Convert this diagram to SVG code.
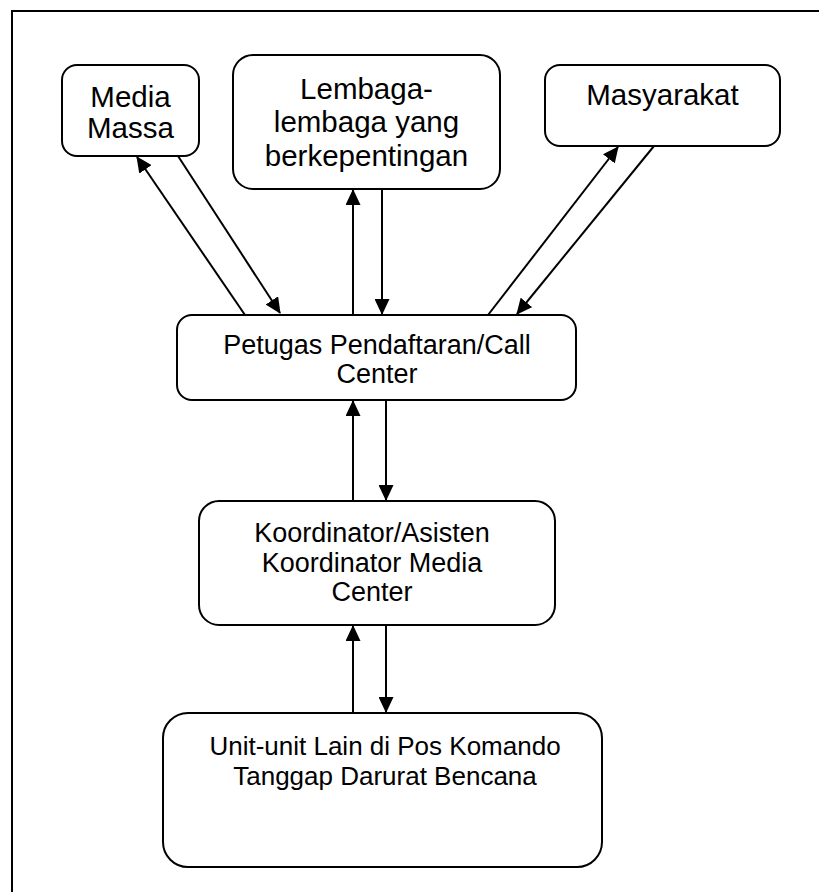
<svg xmlns="http://www.w3.org/2000/svg" width="819" height="892" viewBox="0 0 819 892">
  <style>
    .box { fill: #ffffff; stroke: #000000; stroke-width: 2; }
    .frame { fill: none; stroke: #000000; stroke-width: 2; }
    .lbl { font-family: "Liberation Sans", Arial, sans-serif; fill: #000000; text-anchor: middle; }
    .big { font-size: 29.5px; }
    .mid { font-size: 27px; }
    .sm { font-size: 26px; }
    .link { stroke: #000000; stroke-width: 2; fill: none; marker-end: url(#head); }
  </style>
  <defs>
    <marker id="head" markerUnits="userSpaceOnUse" markerWidth="16" markerHeight="15" refX="15" refY="7.5" orient="auto">
      <path d="M0,0 L16,7.5 L0,15 Z" fill="#000000"/>
    </marker>
  </defs>
  <rect width="819" height="892" fill="#ffffff"/>
  <!-- page frame, continues past the right and bottom edges -->
  <rect class="frame" x="12" y="11" width="820" height="900"/>

  <g id="media-massa">
    <rect class="box" x="62" y="65" width="137" height="91" rx="15"/>
    <text class="lbl big" x="130.5" y="107">Media</text>
    <text class="lbl big" x="130.5" y="138">Massa</text>
  </g>

  <g id="lembaga">
    <rect class="box" x="233" y="55" width="267" height="134" rx="20"/>
    <text class="lbl big" x="366.5" y="99">Lembaga-</text>
    <text class="lbl big" x="366.5" y="132">lembaga yang</text>
    <text class="lbl big" x="366.5" y="166">berkepentingan</text>
  </g>

  <g id="masyarakat">
    <rect class="box" x="545" y="65" width="235" height="81" rx="15"/>
    <text class="lbl big" x="662.5" y="105">Masyarakat</text>
  </g>

  <g id="petugas">
    <rect class="box" x="177" y="315" width="399" height="85" rx="15"/>
    <text class="lbl mid" x="377" y="354">Petugas Pendaftaran/Call</text>
    <text class="lbl mid" x="377" y="383">Center</text>
  </g>

  <g id="koordinator">
    <rect class="box" x="199" y="501" width="356" height="124" rx="20"/>
    <text class="lbl mid" x="372" y="542">Koordinator/Asisten</text>
    <text class="lbl mid" x="372" y="572">Koordinator Media</text>
    <text class="lbl mid" x="372" y="601">Center</text>
  </g>

  <g id="unit-lain">
    <rect class="box" x="163" y="713" width="439" height="154" rx="25"/>
    <text class="lbl sm" x="385" y="755">Unit-unit Lain di Pos Komando</text>
    <text class="lbl sm" x="385" y="785">Tanggap Darurat Bencana</text>
  </g>

  <g id="connectors">
    <line class="link" x1="245" y1="315" x2="137" y2="157"/>
    <line class="link" x1="178" y1="156" x2="280" y2="313"/>
    <line class="link" x1="353" y1="315" x2="353" y2="190"/>
    <line class="link" x1="382" y1="189" x2="382" y2="314"/>
    <line class="link" x1="488" y1="315" x2="618" y2="147"/>
    <line class="link" x1="654" y1="146" x2="517" y2="314"/>
    <line class="link" x1="353" y1="501" x2="353" y2="401"/>
    <line class="link" x1="386" y1="400" x2="386" y2="500"/>
    <line class="link" x1="353" y1="713" x2="353" y2="626"/>
    <line class="link" x1="386" y1="625" x2="386" y2="712"/>
  </g>
</svg>
